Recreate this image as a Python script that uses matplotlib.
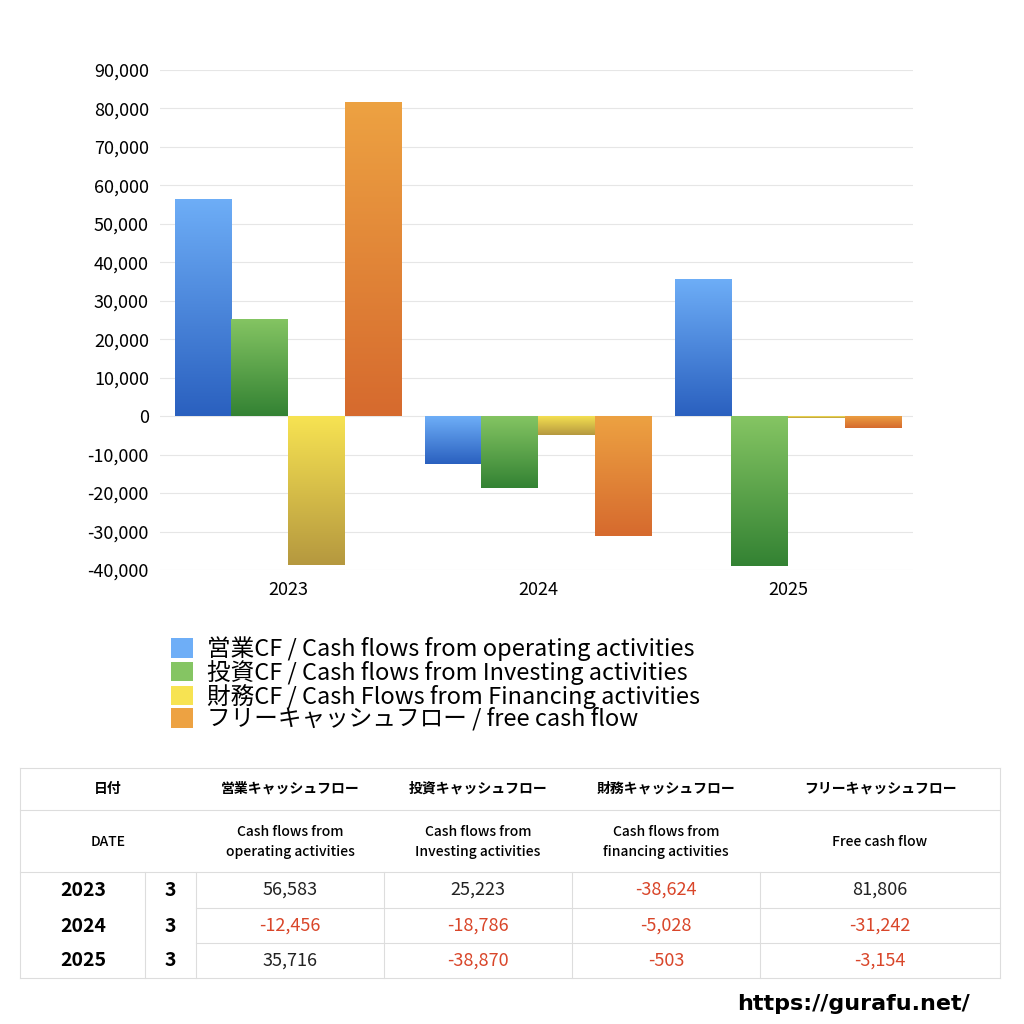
import numpy as np
import matplotlib
matplotlib.use("Agg")
import matplotlib.pyplot as plt
from matplotlib.patches import Patch
from matplotlib.colors import LinearSegmentedColormap

plt.rcParams['font.family'] = ['Noto Sans CJK JP', 'DejaVu Sans']

years = ["2023", "2024", "2025"]
months = ["3", "3", "3"]
operating = [56583, -12456, 35716]
investing = [25223, -18786, -38870]
financing = [-38624, -5028, -503]
free_cf = [81806, -31242, -3154]

series = [operating, investing, financing, free_cf]
legend_labels = [
    "営業CF / Cash flows from operating activities",
    "投資CF / Cash flows from Investing activities",
    "財務CF / Cash Flows from Financing activities",
    "フリーキャッシュフロー / free cash flow",
]
grads = [("#6eaef7", "#2a60bf"), ("#85c563", "#338233"),
         ("#f7e352", "#b5983f"), ("#eda242", "#d66a2e")]

fig = plt.figure(figsize=(10.24, 10.24), dpi=100)
ax = fig.add_axes([160/1024, 1-570/1024, 753/1024, 500/1024])

offsets = [-0.34, -0.113, 0.113, 0.34]
width = 0.227
x = np.arange(len(years))
grad_img = np.linspace(1, 0, 256).reshape(-1, 1)
for vals, off, (top, bot) in zip(series, offsets, grads):
    cmap = LinearSegmentedColormap.from_list("g", [bot, top])
    bars = ax.bar(x + off, vals, width, color="none", zorder=2)
    for b in bars:
        x0, y0 = b.get_x(), b.get_y()
        w, h = b.get_width(), b.get_height()
        ylo, yhi = min(y0, y0 + h), max(y0, y0 + h)
        im = ax.imshow(grad_img, cmap=cmap, aspect="auto",
                       extent=[x0, x0 + w, ylo, yhi], zorder=2, origin="upper")
        im.set_clip_path(b)

ax.set_xlim(-0.512, 2.5)
ax.set_ylim(-40000, 90000)
ax.set_yticks(np.arange(-40000, 90001, 10000))
ax.set_yticklabels([f"{v:,}" for v in range(-40000, 90001, 10000)], fontsize=13)
ax.set_xticks(x)
ax.set_xticklabels(years, fontsize=13)
ax.tick_params(length=0, pad=8)
ax.grid(axis="y", color="#e6e6e6", lw=0.8, zorder=0)
for s in ax.spines.values():
    s.set_visible(False)

handles = [Patch(facecolor=c[0], edgecolor="none") for c in grads]
fig.legend(handles, legend_labels, loc="upper left", bbox_to_anchor=(150/1024, 1-615/1024),
           frameon=False, fontsize=17, handlelength=0.9, handleheight=0.9,
           labelspacing=-0.05, handletextpad=0.6)

# table
def fx(px): return px/1024
def fy(py): return 1 - py/1024
lc = "#dddddd"
for py in [768, 810, 872, 978]:
    fig.add_artist(plt.Line2D([fx(20), fx(1000)], [fy(py), fy(py)], color=lc, lw=0.8))
for py in [908, 943]:
    fig.add_artist(plt.Line2D([fx(196), fx(1000)], [fy(py), fy(py)], color=lc, lw=0.8))
for px in [20, 1000]:
    fig.add_artist(plt.Line2D([fx(px), fx(px)], [fy(768), fy(978)], color=lc, lw=0.8))
for px in [145, 196, 384, 572, 760]:
    fig.add_artist(plt.Line2D([fx(px), fx(px)], [fy(872), fy(978)], color=lc, lw=0.8))

col_c = [108, 290, 478, 666, 880]
heads = ["日付", "営業キャッシュフロー", "投資キャッシュフロー", "財務キャッシュフロー", "フリーキャッシュフロー"]
subs = ["DATE", "Cash flows from\noperating activities", "Cash flows from\nInvesting activities",
        "Cash flows from\nfinancing activities", "Free cash flow"]
for cx, h, s in zip(col_c, heads, subs):
    fig.text(fx(cx), fy(789), h, ha="center", va="center", fontsize=10, fontweight="bold")
    fig.text(fx(cx), fy(842), s, ha="center", va="center", fontsize=10, linespacing=1.5,
             fontweight="medium")

row_c = [890, 926, 961]
for i, ry in enumerate(row_c):
    fig.text(fx(83), fy(ry), years[i], ha="center", va="center", fontsize=14, fontweight="bold")
    fig.text(fx(170), fy(ry), months[i], ha="center", va="center", fontsize=14, fontweight="bold")
    for cx, vals in zip(col_c[1:], series):
        v = vals[i]
        fig.text(fx(cx), fy(ry), f"{v:,}", ha="center", va="center", fontsize=13,
                 color="#d9462a" if v < 0 else "#222222")

fig.text(fx(970), fy(1004), "https://gurafu.net/", ha="right", va="center",
         fontsize=16, fontweight="bold", family=["DejaVu Sans"])

fig.savefig("out.png", dpi=100, facecolor="white")
